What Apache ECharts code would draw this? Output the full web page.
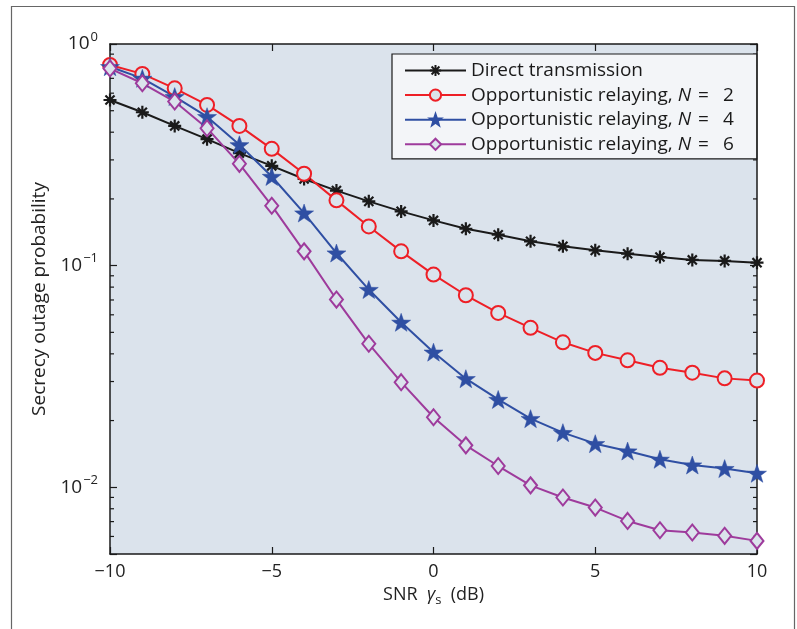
<!DOCTYPE html>
<html><head><meta charset="utf-8">
<script src="https://cdn.jsdelivr.net/npm/echarts@6/dist/echarts.min.js"></script>
<style>html,body{margin:0;padding:0;background:#fff}#c{width:797px;height:629px}</style>
</head><body><div id="c"></div>
<script>
// ---- data ----
const snr = [-10,-9,-8,-7,-6,-5,-4,-3,-2,-1,0,1,2,3,4,5,6,7,8,9,10];
const seriesNames = ['Direct transmission','Opportunistic relaying, N = 2','Opportunistic relaying, N = 4','Opportunistic relaying, N = 6'];
const direct  = [0.559,0.492,0.427,0.372,0.322,0.282,0.246,0.218,0.195,0.1757,0.160,0.1467,0.1379,0.1287,0.1222,0.1172,0.1132,0.1094,0.1061,0.1050,0.1031];
const relayN2 = [0.804,0.733,0.631,0.531,0.427,0.3365,0.2597,0.197,0.1503,0.116,0.0911,0.0735,0.0612,0.0524,0.0451,0.0404,0.0374,0.0346,0.0329,0.0310,0.0303];
const relayN4 = [0.79,0.70,0.579,0.470,0.351,0.2525,0.1727,0.114,0.078,0.0555,0.0407,0.0309,0.0249,0.0204,0.01764,0.01573,0.01457,0.01337,0.0126,0.01214,0.01156];
const relayN6 = [0.775,0.665,0.550,0.417,0.288,0.1864,0.116,0.0703,0.0444,0.0298,0.0207,0.01546,0.01247,0.0102,0.00899,0.0081,0.00705,0.0064,0.00625,0.00604,0.00573];
const xTicks = [-10,-5,0,5,10];
const yMajorTicks = [0.01,0.1,1];
const yMajorExponents = ['−2','−1','0'];
const yMinorTicks = [0.006,0.007,0.008,0.009,0.02,0.03,0.04,0.05,0.06,0.07,0.08,0.09,0.2,0.3,0.4,0.5,0.6,0.7,0.8,0.9];
const yMin = 0.005, yMax = 1;

// ---- style ----
const FONT = 'Open Sans';
const BG = '#dbe3ec';
const AX = '#1a1a1a';
const STAR = 'path://M0,-1L0.235,-0.324L0.951,-0.309L0.380,0.124L0.588,0.809L0,0.4L-0.588,0.809L-0.380,0.124L-0.951,-0.309L-0.235,-0.324Z';
const ASTER = 'path://M0,-10L0,10M-10,0L10,0M-7,-7L7,7M-7,7L7,-7';

function mk(name, vals, color, symbol, size, fill, bw) {
  return {
    name, type: 'line', data: snr.map((x, i) => [x, vals[i]]),
    symbol, symbolSize: size, showAllSymbol: true,
    lineStyle: { color, width: 2 },
    itemStyle: { color: fill, borderColor: color, borderWidth: bw },
    emphasis: { disabled: true }, animation: false, z: 3
  };
}

function yAxisBase(pos) {
  return {
    type: 'log', logBase: 10, min: yMin, max: yMax, position: pos,
    axisLine: { show: true, onZero: false, lineStyle: { color: AX, width: 1.5 } },
    axisTick: { show: true, inside: true, length: 7, lineStyle: { color: AX, width: 1.2 } },
    axisLabel: { show: false }, splitLine: { show: false }, minorTick: { show: false }
  };
}

const yLeft = yAxisBase('left');
yLeft.axisLabel = {
  show: true, margin: 12, color: '#222',
  formatter: v => {
    const idx = yMajorTicks.findIndex(t => Math.abs(Math.log10(t) - Math.log10(v)) < 1e-6);
    return idx < 0 ? '' : '{b|10}{e|' + yMajorExponents[idx] + '}';
  },
  rich: {
    b: { fontSize: 19, fontFamily: FONT, color: '#222' },
    e: { fontSize: 13, fontFamily: FONT, color: '#222', padding: [0, 0, 14, 1] }
  }
};
yLeft.name = 'Secrecy outage probability';
yLeft.nameLocation = 'middle';
yLeft.nameGap = 57;
yLeft.nameTextStyle = { fontSize: 19, fontFamily: FONT, color: '#222' };

// minor ticks on left and right frame edges, placed through the axis scales
const minorTickSeries = {
  type: 'custom', silent: true, animation: false, z: 1,
  data: yMinorTicks.map(v => [xTicks[0], v]),
  renderItem: (params, api) => {
    const v = api.value(1);
    const pL = api.coord([xTicks[0], v]);
    const pR = api.coord([xTicks[xTicks.length - 1], v]);
    const st = { stroke: AX, lineWidth: 1.2 };
    return {
      type: 'group', children: [
        { type: 'line', shape: { x1: pL[0], y1: pL[1], x2: pL[0] + 4, y2: pL[1] }, style: st },
        { type: 'line', shape: { x1: pR[0], y1: pR[1], x2: pR[0] - 4, y2: pR[1] }, style: st }
      ]
    };
  }
};

const option = {
  animation: false,
  backgroundColor: '#ffffff',
  grid: { left: 110, top: 44, right: 40, bottom: 75, show: true, backgroundColor: BG, borderWidth: 0 },
  graphic: [{
    type: 'polyline', silent: true,
    shape: { points: [[11.5, 640], [11.5, 6.5], [794.5, 6.5], [794.5, 640]] },
    style: { stroke: '#666', lineWidth: 1.2, fill: null }
  }],
  xAxis: [
    {
      type: 'value', position: 'bottom', min: xTicks[0], max: xTicks[xTicks.length - 1], interval: 5,
      axisLine: { show: true, onZero: false, lineStyle: { color: AX, width: 1.5 } },
      axisTick: { show: true, inside: true, length: 7, lineStyle: { color: AX, width: 1.2 } },
      axisLabel: { fontSize: 18, fontFamily: FONT, color: '#222', margin: 9, formatter: v => String(v).replace('-', '−') },
      splitLine: { show: false },
      name: 'SNR  {g|γ}{s|s}  (dB)', nameLocation: 'middle', nameGap: 27,
      nameTextStyle: {
        fontSize: 18, fontFamily: FONT, color: '#222',
        rich: {
          g: { fontSize: 18, fontFamily: FONT, fontStyle: 'italic', color: '#222' },
          s: { fontSize: 13, fontFamily: FONT, color: '#222', padding: [10, 0, 0, 0] }
        }
      }
    },
    {
      type: 'value', position: 'top', min: xTicks[0], max: xTicks[xTicks.length - 1], interval: 5,
      axisLine: { show: true, onZero: false, lineStyle: { color: AX, width: 1.5 } },
      axisTick: { show: true, inside: true, length: 7, lineStyle: { color: AX, width: 1.2 } },
      axisLabel: { show: false }, splitLine: { show: false }
    }
  ],
  yAxis: [yLeft, yAxisBase('right')],
  legend: {
    orient: 'vertical', left: 392, top: 54,
    padding: [7, 23, 5, 12], itemWidth: 61, itemHeight: 14, itemGap: 5.6,
    backgroundColor: '#f3f5f8', borderColor: AX, borderWidth: 1.2, borderRadius: 0,
    selectedMode: false,
    textStyle: {
      fontSize: 19, fontFamily: FONT, color: '#1a1a1a', lineHeight: 19,
      rich: {
        i: { fontSize: 19, fontFamily: FONT, fontStyle: 'italic', color: '#1a1a1a', lineHeight: 19 },
        eq: { fontSize: 19, fontFamily: FONT, color: '#1a1a1a', lineHeight: 19, padding: [0, 14, 0, 7] }
      }
    },
    formatter: n => n.replace(/N = (\d)/, '{i|N}{eq|=}$1'),
    data: seriesNames
  },
  series: [
    mk(seriesNames[0], direct, '#1a1a1a', ASTER, 13, '#1a1a1a', 2.2),
    mk(seriesNames[1], relayN2, '#ee1f26', 'circle', 14, BG, 2),
    mk(seriesNames[2], relayN4, '#2f4fa3', STAR, [19, 18], '#2f4fa3', 0.5),
    mk(seriesNames[3], relayN6, '#9e3b9c', 'diamond', [13, 16], BG, 2),
    minorTickSeries
  ]
};
const chart = echarts.init(document.getElementById('c'), null, { renderer: 'canvas' });
chart.setOption(option);
</script>
</body></html>
